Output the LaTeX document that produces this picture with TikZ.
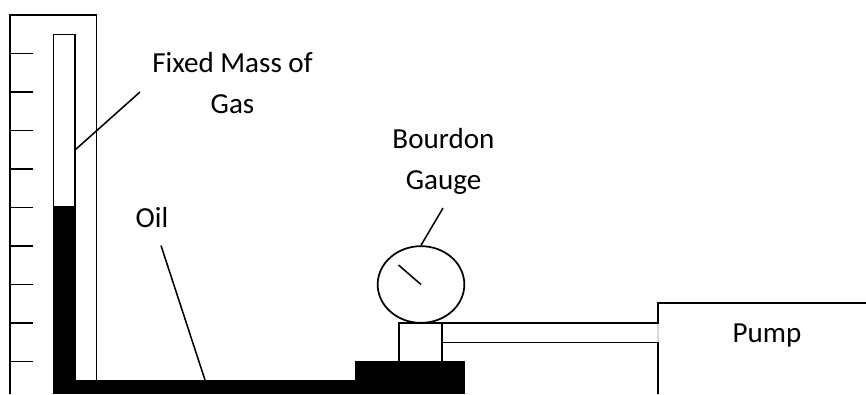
\documentclass[tikz,border=0pt]{standalone}
\usepackage{fontspec}
\usetikzlibrary{shapes.geometric}
\setmainfont{Carlito}
\tikzset{
  x=0.75pt,y=-0.75pt,
  ln/.style={draw=black,line width=1.3pt,line cap=butt},
  thinln/.style={draw=black,line width=1.15pt},
  fillk/.style={fill=black,draw=none},
  lbl/.style={inner sep=0pt,anchor=base,align=center,font=\fontsize{21.8}{30.75}\selectfont,text=black},
}
\begin{document}
\begin{tikzpicture}
\useasboundingbox (0,0) rectangle (866,394);
% outer scale frame
\draw[ln] (10,394) -- (10,15) -- (96.5,15) -- (96.5,380);
% ticks
\foreach \yy in {53.5,92,130.5,169,207.5,246,284.5,323,361.5}
  \draw[thinln] (10,\yy) -- (33,\yy);
% tube
\draw[ln] (53.5,206) -- (53.5,34.5) -- (75,34.5) -- (75,206);
% oil
\fill[fillk] (52.5,206) rectangle (76,380);
\fill[fillk] (52.5,380) rectangle (355,394);
\fill[fillk] (355,361) rectangle (465,394);
% stem and gauge
\coordinate (gaugeC) at (421,284.5);
\node[draw=black,line width=1.3pt,ellipse,minimum width=65pt,minimum height=57.5pt,inner sep=0pt] (gauge) at (gaugeC) {};
\coordinate (needle) at (398.5,265);
\draw[thinln] (needle) -- (gaugeC);
\draw[ln] (399,361) -- (399,323) -- (442,323) -- (442,361);
% pipe
\draw[ln] (442,323) -- (658,323);
\draw[thinln] (442,342.5) -- (658,342.5);
% pump
\draw[ln] (658,394) -- (658,303) -- (866,303);
\draw[black!15,line width=0.8pt] (658,324) -- (658,341.5);
% labels
\node[lbl] (mass) at (232.5,72) {Fixed Mass of};
\node[lbl] (gas) at (232.5,113) {Gas};
\node[lbl] (oil) at (152,227) {Oil};
\node[lbl] (bourdon) at (443.5,148) {Bourdon};
\node[lbl] (gaugelbl) at (443.5,189) {Gauge};
\node[lbl] (pump) at (767,342) {Pump};
% leaders
\coordinate (massEnd) at (140,92);
\coordinate (massTip) at (75,150);
\coordinate (oilEnd) at (161,245.5);
\coordinate (oilTip) at (205,380);
\coordinate (bEnd) at (443,208);
\draw[thinln] (massEnd) -- (massTip);
\draw[thinln] (oilEnd) -- (oilTip);
\draw[thinln] (bEnd) -- (gauge.north);
\end{tikzpicture}
\end{document}
